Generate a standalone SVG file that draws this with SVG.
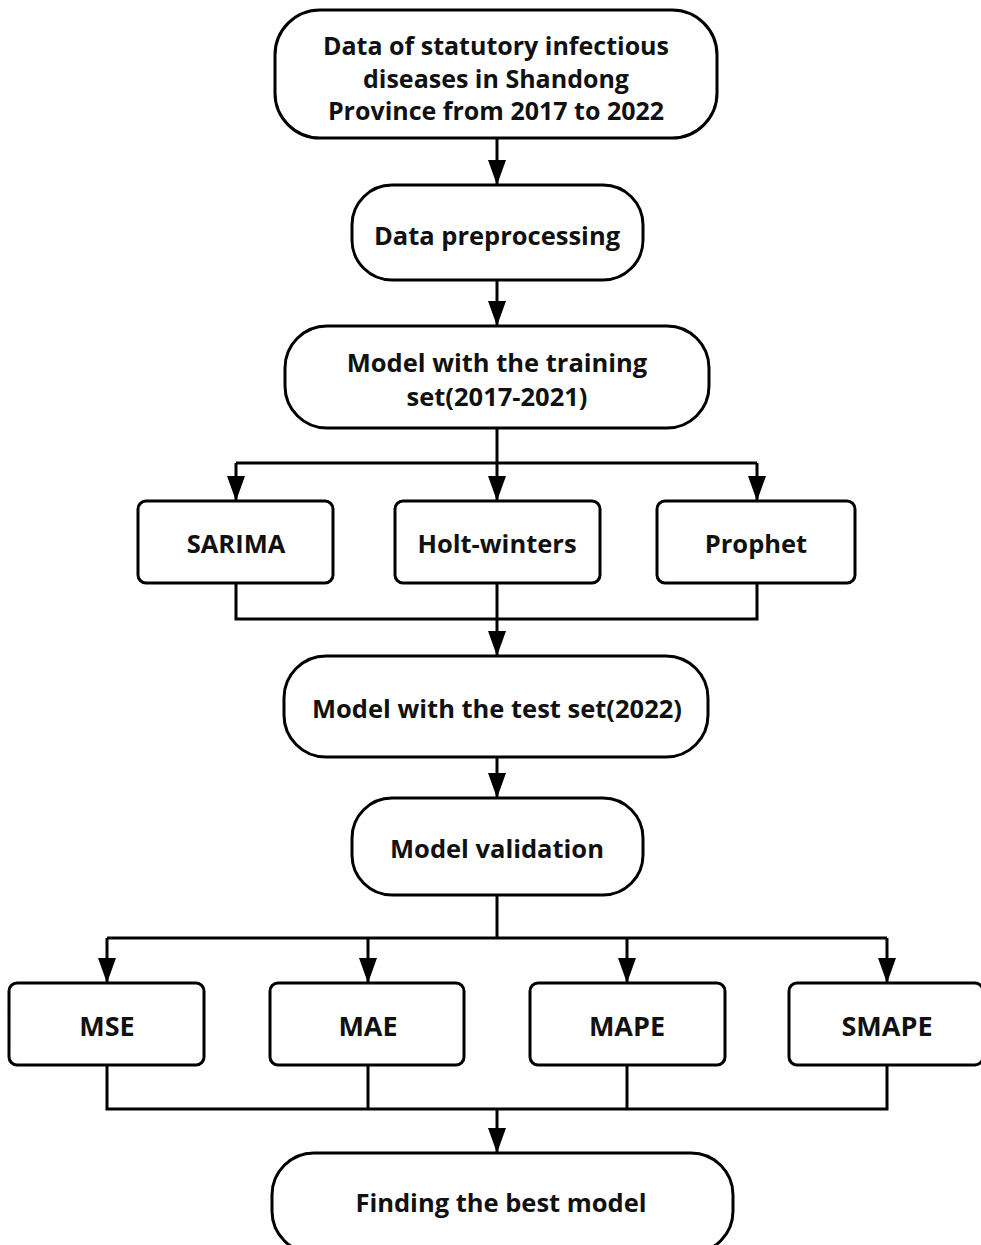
<svg xmlns="http://www.w3.org/2000/svg" width="981" height="1245" viewBox="0 0 981 1245">
<defs>
<marker id="arr" markerUnits="userSpaceOnUse" markerWidth="26" markerHeight="18" refX="25" refY="9" orient="auto">
<path d="M0,0 L25,9 L0,18 z" fill="#000"/>
</marker>
<style>
.n{fill:#fff;stroke:#000;stroke-width:3}
.t{font-family:"Open Sans","Noto Sans",sans-serif;font-weight:bold;font-size:25.5px;fill:#111;text-anchor:middle;dominant-baseline:central}
.m{font-size:27px}
.s{font-size:25px}
.c{fill:none;stroke:#000;stroke-width:3}
.a{fill:none;stroke:#000;stroke-width:3;marker-end:url(#arr)}
</style>
</defs>
<rect width="981" height="1245" fill="#fff"/>
<g id="connectors">
<path class="a" d="M497,138 V185"/>
<path class="a" d="M497,280 V326"/>
<path class="a" d="M497,428 V501"/>
<path class="c" d="M236,463 H757"/>
<path class="a" d="M236,463 V501"/>
<path class="a" d="M757,463 V501"/>
<path class="c" d="M236,583 V619 H757 V583"/>
<path class="a" d="M497,583 V656"/>
<path class="a" d="M497,757 V798"/>
<path class="c" d="M497,895 V938"/>
<path class="c" d="M107,938 H887"/>
<path class="a" d="M107,938 V983"/>
<path class="a" d="M368,938 V983"/>
<path class="a" d="M627,938 V983"/>
<path class="a" d="M887,938 V983"/>
<path class="c" d="M107,1065 V1109 H887 V1065"/>
<path class="c" d="M368,1065 V1109"/>
<path class="c" d="M627,1065 V1109"/>
<path class="a" d="M497,1109 V1153"/>
</g>
<g id="n1"><rect class="n" x="275" y="10" width="442" height="128" rx="45"/>
<text class="t s" x="496" y="45">Data of statutory infectious</text>
<text class="t s" x="496" y="77.5">diseases in Shandong</text>
<text class="t s" x="496" y="110">Province from 2017 to 2022</text></g>
<g id="n2"><rect class="n" x="352" y="185" width="291" height="95" rx="40"/>
<text class="t" x="497" y="235">Data preprocessing</text></g>
<g id="n3"><rect class="n" x="285" y="326" width="424" height="102" rx="42"/>
<text class="t" x="497" y="362">Model with the training</text>
<text class="t" x="497" y="396">set(2017-2021)</text></g>
<g id="n4"><rect class="n" x="138" y="501" width="195" height="82" rx="8"/>
<text class="t" x="236" y="543">SARIMA</text></g>
<g id="n5"><rect class="n" x="395" y="501" width="205" height="82" rx="8"/>
<text class="t" x="497" y="543">Holt-winters</text></g>
<g id="n6"><rect class="n" x="657" y="501" width="198" height="82" rx="8"/>
<text class="t" x="756" y="543">Prophet</text></g>
<g id="n7"><rect class="n" x="284" y="656" width="424" height="101" rx="42"/>
<text class="t" x="497" y="708">Model with the test set(2022)</text></g>
<g id="n8"><rect class="n" x="352" y="798" width="291" height="97" rx="40"/>
<text class="t" x="497" y="848">Model validation</text></g>
<g id="n9"><rect class="n" x="9" y="983" width="195" height="82" rx="8"/>
<text class="t m" x="107" y="1025">MSE</text></g>
<g id="n10"><rect class="n" x="270" y="983" width="194" height="82" rx="8"/>
<text class="t m" x="368" y="1025">MAE</text></g>
<g id="n11"><rect class="n" x="530" y="983" width="195" height="82" rx="8"/>
<text class="t m" x="627" y="1025">MAPE</text></g>
<g id="n12"><rect class="n" x="789" y="983" width="194" height="82" rx="8"/>
<text class="t m" x="887" y="1025">SMAPE</text></g>
<g id="n13"><rect class="n" x="272" y="1153" width="461" height="100" rx="42"/>
<text class="t" x="501" y="1202">Finding the best model</text></g>
</svg>
